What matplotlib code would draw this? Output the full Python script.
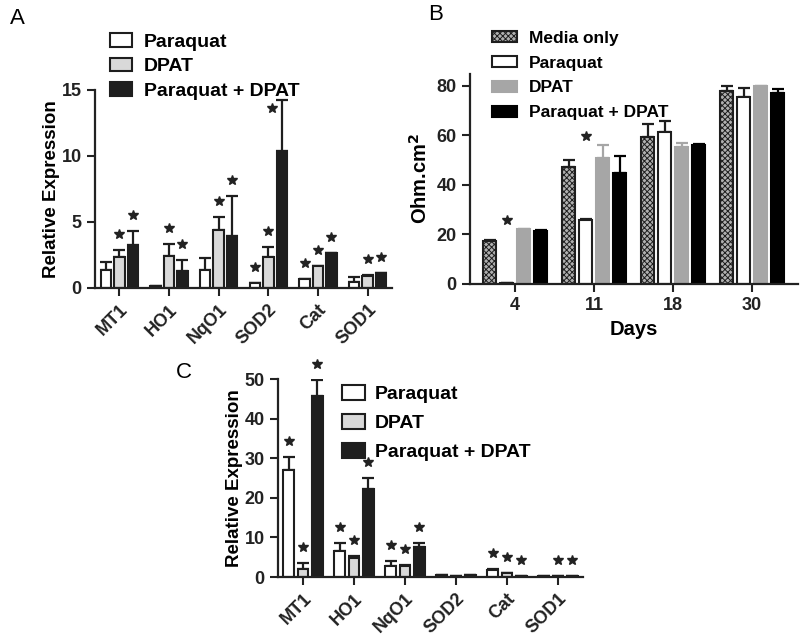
import matplotlib
matplotlib.use("Agg")
import matplotlib.pyplot as plt
import numpy as np
from matplotlib.patches import Patch
from matplotlib.transforms import offset_copy

plt.rcParams['font.family'] = ['Liberation Sans', 'DejaVu Sans']
plt.rcParams['font.weight'] = 'bold'
plt.rcParams['hatch.linewidth'] = 0.7

# ---------- data ----------
genes = ['MT1', 'HO1', 'NqO1', 'SOD2', 'Cat', 'SOD1']
series = ['Paraquat', 'DPAT', 'Paraquat + DPAT']

a_vals = {
    'Paraquat':        [1.37, 0.15, 1.37, 0.35, 0.66, 0.48],
    'DPAT':            [2.33, 2.40, 4.40, 2.33, 1.65, 0.91],
    'Paraquat + DPAT': [3.27, 1.27, 3.97, 10.35, 2.63, 1.11],
}
a_err = {
    'Paraquat':        [0.58, 0.0, 0.88, 0.0, 0.0, 0.38],
    'DPAT':            [0.57, 0.95, 1.0, 0.81, 0.0, 0.09],
    'Paraquat + DPAT': [1.03, 0.86, 2.97, 3.93, 0.0, 0.0],
}
a_star = {
    'Paraquat':        [0, 0, 0, 1, 1, 0],
    'DPAT':            [1, 1, 1, 1, 1, 1],
    'Paraquat + DPAT': [1, 1, 1, 1, 1, 1],
}

days = ['4', '11', '18', '30']
b_series = ['Media only', 'Paraquat', 'DPAT', 'Paraquat + DPAT']
b_vals = {
    'Media only':      [17.3, 47.1, 59.5, 78.0],
    'Paraquat':        [0.3, 25.9, 61.3, 75.6],
    'DPAT':            [22.1, 51.0, 55.2, 79.9],
    'Paraquat + DPAT': [21.4, 45.0, 56.3, 77.3],
}
b_err = {
    'Media only':      [0.4, 3.0, 5.0, 2.0],
    'Paraquat':        [0.0, 0.4, 4.6, 3.7],
    'DPAT':            [0.3, 5.2, 1.9, 0.2],
    'Paraquat + DPAT': [0.5, 6.9, 0.3, 1.6],
}
b_star_days = [0, 1]

c_vals = {
    'Paraquat':        [27.0, 6.6, 2.8, 0.4, 1.7, 0.3],
    'DPAT':            [2.1, 4.9, 2.7, 0.3, 1.0, 0.3],
    'Paraquat + DPAT': [45.8, 22.1, 7.6, 0.4, 0.15, 0.3],
}
c_err = {
    'Paraquat':        [3.2, 2.0, 1.25, 0.0, 0.2, 0.0],
    'DPAT':            [1.5, 0.3, 0.4, 0.0, 0.0, 0.0],
    'Paraquat + DPAT': [3.9, 3.0, 1.1, 0.0, 0.0, 0.0],
}
c_star = {
    'Paraquat':        [1, 1, 1, 0, 1, 0],
    'DPAT':            [1, 1, 1, 0, 1, 1],
    'Paraquat + DPAT': [1, 1, 1, 0, 1, 1],
}

# ---------- styles ----------
W, H = 800, 641
fig = plt.figure(figsize=(W / 100, H / 100), dpi=100)

def px_axes(l, r, t, b):
    return fig.add_axes([l / W, 1 - b / H, (r - l) / W, (b - t) / H])

abc_face = {'Paraquat': 'white', 'DPAT': '#d9d9d9', 'Paraquat + DPAT': '#1e1e1e'}

def style_axes(ax, fs):
    for s in ['top', 'right']:
        ax.spines[s].set_visible(False)
    for s in ['left', 'bottom']:
        ax.spines[s].set_linewidth(1.6)
        ax.spines[s].set_color('#222222')
    ax.tick_params(direction='out', length=6, width=1.5, labelsize=fs, colors='#222222')

def star_marks(ax, xs, tops, flags, side_above=None, dy=16):
    tr = offset_copy(ax.transData, fig=fig, x=0, y=dy, units='dots')
    tr_side = offset_copy(ax.transData, fig=fig, x=-10, y=-8, units='dots')
    for x, t, f in zip(xs, tops, flags):
        if f:
            # in panel A the tallest star sits beside its error bar (below the legend)
            use = tr_side if (side_above is not None and t > side_above) else tr
            ax.plot([x], [t], marker='*', ms=7.5, color='#222222', mec='#222222',
                    transform=use, clip_on=False, linestyle='none')

def gene_panel(ax, vals, errs, stars, off, width, ylim, yticks, side_above=None):
    x = np.arange(len(genes))
    for i, s in enumerate(series):
        xs = x + (i - 1) * off
        ax.bar(xs, vals[s], width, color=abc_face[s], edgecolor='#1e1e1e', linewidth=1.5, zorder=2)
        ax.errorbar(xs, vals[s], yerr=[np.zeros(len(genes)), errs[s]], fmt='none',
                    ecolor='#1e1e1e', elinewidth=1.6, capsize=4, capthick=1.6, zorder=1)
        tops = np.array(vals[s]) + np.array(errs[s])
        star_marks(ax, xs, tops, stars[s], side_above)
    ax.set_xlim(-0.49, len(genes) - 0.51)
    ax.set_ylim(*ylim)
    ax.set_yticks(yticks)
    ax.set_xticks(x)
    ax.set_xticklabels(genes, rotation=45, ha='right', va='top', rotation_mode='anchor')
    style_axes(ax, 13)
    ax.set_ylabel('Relative Expression', fontsize=13.5, fontweight='bold', labelpad=1)

# ---------- Panel A ----------
axA = px_axes(95, 392, 90, 288)
gene_panel(axA, a_vals, a_err, a_star, 0.27, 0.21, (0, 15), [0, 5, 10, 15], side_above=13.5)
handlesA = [Patch(facecolor=abc_face[s], edgecolor='#1e1e1e', linewidth=1.5) for s in series]
fig.legend(handlesA, series, loc='upper left', bbox_to_anchor=(110 / W, 1 - 33 / H),
           frameon=False, fontsize=14, handlelength=1.15, handleheight=0.7,
           handletextpad=0.6, labelspacing=0.36, borderpad=0, borderaxespad=0)

# ---------- Panel B ----------
axB = px_axes(470, 798, 73.6, 284)
xb = np.arange(len(days))
b_face = {'Media only': '#b0b0b0', 'Paraquat': 'white', 'DPAT': '#a6a6a6', 'Paraquat + DPAT': 'black'}
b_edge = {'Media only': '#1e1e1e', 'Paraquat': '#1e1e1e', 'DPAT': '#a6a6a6', 'Paraquat + DPAT': 'black'}
b_hatch = {'Media only': 'xxxxxx', 'Paraquat': None, 'DPAT': None, 'Paraquat + DPAT': None}
boff, bw = 0.215, 0.16
tops_all = []
for i, s in enumerate(b_series):
    xs = xb + (i - 1.5) * boff
    axB.bar(xs, b_vals[s], bw, color=b_face[s], edgecolor=b_edge[s], linewidth=1.5,
            hatch=b_hatch[s], zorder=2)
    axB.errorbar(xs, b_vals[s], yerr=[np.zeros(len(days)), b_err[s]], fmt='none',
                 ecolor=b_edge[s], elinewidth=1.6, capsize=4, capthick=1.6, zorder=1)
    tops_all.append(np.array(b_vals[s]) + np.array(b_err[s]))
tops_all = np.array(tops_all)
trB = offset_copy(axB.transData, fig=fig, x=0, y=9, units='dots')
for d in b_star_days:
    axB.plot([xb[d] - 0.5 * boff], [tops_all[:, d].max()], marker='*', ms=7, color='#222222',
             transform=trB, clip_on=False, linestyle='none')
axB.set_xlim(-0.57, 3.58)
axB.set_ylim(0, 85)
axB.set_yticks([0, 20, 40, 60, 80])
axB.set_xticks(xb)
axB.set_xticklabels(days)
style_axes(axB, 13)
axB.set_ylabel('Ohm.cm$^\\mathbf{2}$', fontsize=14.5, fontweight='bold', labelpad=4)
axB.set_xlabel('Days', fontsize=14.5, fontweight='bold', labelpad=4)
handlesB = [Patch(facecolor=b_face[s], edgecolor=b_edge[s], linewidth=1.5, hatch=b_hatch[s])
            for s in b_series]
fig.legend(handlesB, b_series, loc='upper left', bbox_to_anchor=(492 / W, 1 - 31 / H),
           frameon=False, fontsize=12.5, handlelength=1.45, handleheight=0.6,
           handletextpad=0.7, labelspacing=0.56, borderpad=0, borderaxespad=0)

# ---------- Panel C ----------
axC = px_axes(278, 583, 379, 577)
gene_panel(axC, c_vals, c_err, c_star, 0.28, 0.21, (0, 50), [0, 10, 20, 30, 40, 50])
handlesC = [Patch(facecolor=abc_face[s], edgecolor='#1e1e1e', linewidth=1.5) for s in series]
fig.legend(handlesC, series, loc='upper left', bbox_to_anchor=(342 / W, 1 - 385 / H),
           frameon=False, fontsize=14, handlelength=1.2, handleheight=0.8,
           handletextpad=0.5, labelspacing=0.55, borderpad=0, borderaxespad=0)

# ---------- panel letters ----------
fig.text(10 / W, 1 - 18 / H, 'A', fontsize=16, fontweight='normal', ha='left', va='center')
fig.text(428 / W, 1 - 15 / H, 'B', fontsize=16, fontweight='normal', ha='left', va='center')
fig.text(176 / W, 1 - 372 / H, 'C', fontsize=16, fontweight='normal', ha='left', va='center')

fig.savefig('out.png', dpi=100)
